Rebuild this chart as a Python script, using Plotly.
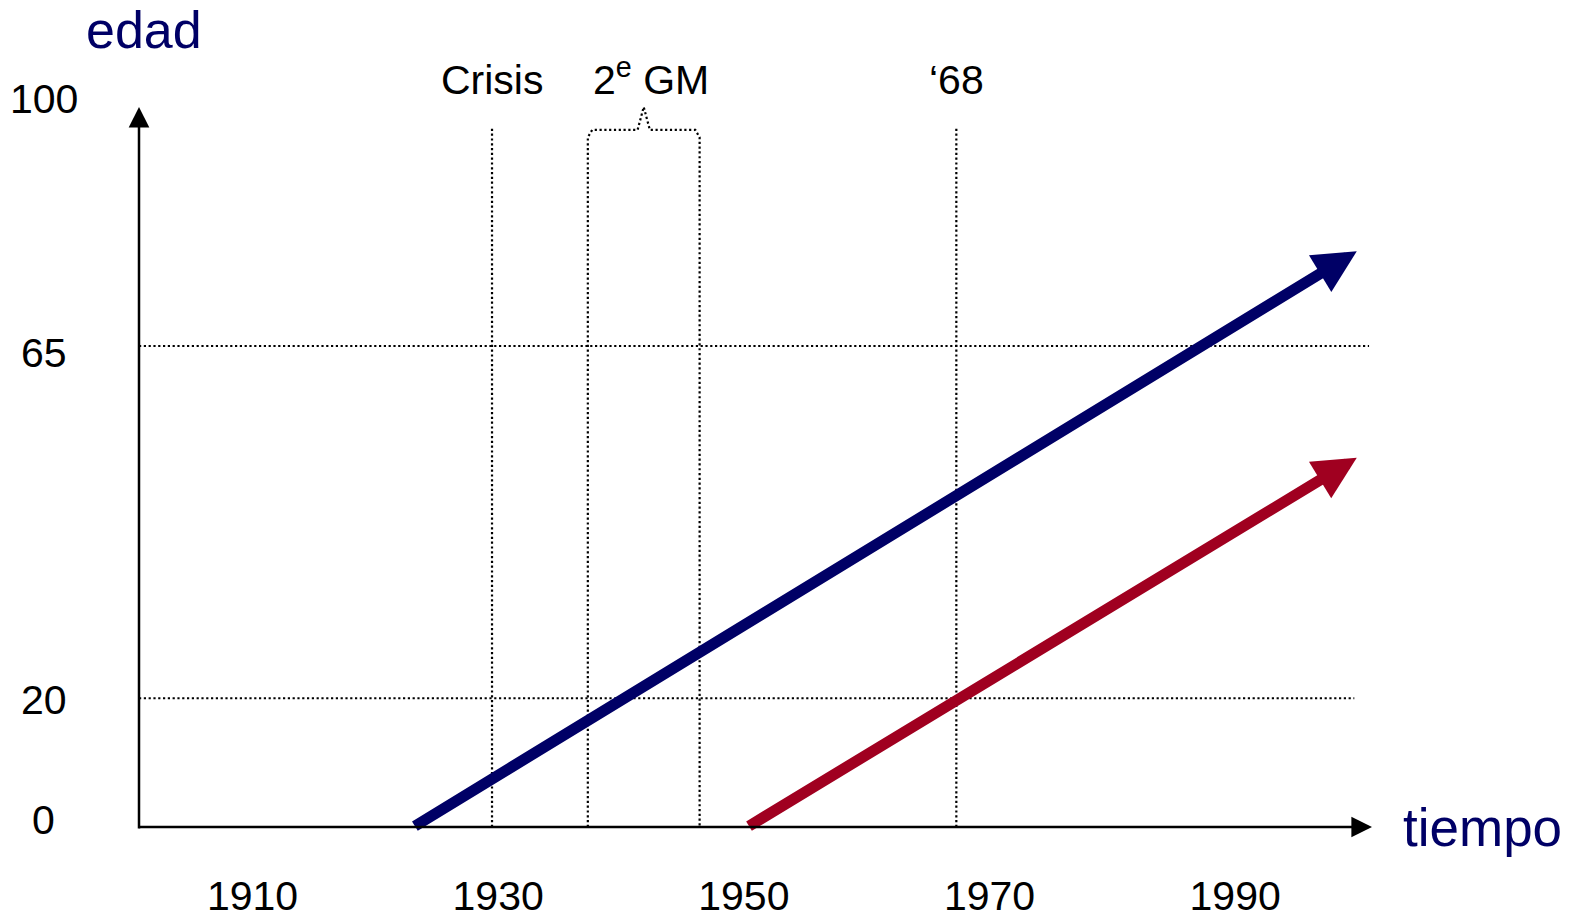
import plotly.graph_objects as go

# ---------------- data ----------------
year_ticks = [1910, 1930, 1950, 1970, 1990]
age_tick_text = ["0", "20", "65", "100"]
age_tick_pos = [1.0, 17.2, 64.0, 98.4]          # where the age labels sit on the schematic age scale
guide_ages = [17.4, 65.0]                        # dotted horizontal guides (20 and 65)
guide_end_years = [1999.7, 2000.9]
event_names = ["Crisis", "2<sup>e</sup> GM", "‘68"]
crisis_year = 1929.5
wwii_years = [1937.3, 1946.4]
may68_year = 1967.3
event_line_top = 94.7
brace_age = 94.2
brace_tip_age = 97.3
cohort_birth_years = [1923.1, 1950.3]
cohort_end_years = [1999.9, 1999.9]
cohort_end_ages = [77.8, 49.9]
cohort_colors = ["#000066", "#A00020"]
x_range = [1900.76, 2001.14]
y_range = [0, 97.3]

FONT = "Liberation Sans, Arial, sans-serif"
NAVY = "#000066"
DOT = "2.2px,2.6px"
DOT_W = 2.2


def px_(year):
    """data year -> paper x"""
    return (year - x_range[0]) / (x_range[1] - x_range[0])


def py_(age):
    """data age -> paper y"""
    return (age - y_range[0]) / (y_range[1] - y_range[0])


fig = go.Figure()

# dotted horizontal guides
for a, xe in zip(guide_ages, guide_end_years):
    fig.add_trace(go.Scatter(x=[x_range[0], xe], y=[a, a], mode="lines",
                             line=dict(color="black", width=DOT_W, dash=DOT),
                             hoverinfo="skip", showlegend=False))

# dotted vertical event lines (crisis, '68)
for yr in [crisis_year, may68_year]:
    fig.add_trace(go.Scatter(x=[yr, yr], y=[0, event_line_top], mode="lines",
                             line=dict(color="black", width=DOT_W, dash=DOT),
                             hoverinfo="skip", showlegend=False))

# WWII lines joined by a brace
w0, w1 = wwii_years
mid = (w0 + w1) / 2
bx = [w0, w0, w0 + 0.35, mid - 0.5, mid, mid + 0.5, w1 - 0.35, w1, w1]
by = [0, brace_age - 1.0, brace_age, brace_age, brace_tip_age, brace_age, brace_age, brace_age - 1.0, 0]
fig.add_trace(go.Scatter(x=bx, y=by, mode="lines",
                         line=dict(color="black", width=DOT_W, dash=DOT),
                         hoverinfo="skip", showlegend=False))

annotations = []

# cohort arrows
for b, xe, ye, c in zip(cohort_birth_years, cohort_end_years, cohort_end_ages, cohort_colors):
    annotations.append(dict(x=xe, y=ye, ax=b, ay=0, xref="x", yref="y", axref="x", ayref="y",
                            text="", showarrow=True, arrowhead=2, arrowsize=0.78,
                            arrowwidth=11, arrowcolor=c, standoff=0, startstandoff=0))

# axes as arrows
annotations.append(dict(x=x_range[0], y=y_range[1], ax=x_range[0], ay=-0.4, xref="x", yref="y",
                        axref="x", ayref="y", text="", showarrow=True, arrowhead=2,
                        arrowsize=1.65, arrowwidth=2.5, arrowcolor="black"))
annotations.append(dict(x=x_range[1], y=0, ax=x_range[0] - 0.1, ay=0, xref="x", yref="y",
                        axref="x", ayref="y", text="", showarrow=True, arrowhead=2,
                        arrowsize=1.65, arrowwidth=2.5, arrowcolor="black"))

# age labels
for t, p in zip(age_tick_text, age_tick_pos):
    annotations.append(dict(x=px_(1893.0), y=py_(p), xref="paper", yref="paper", text=t,
                            showarrow=False, xanchor="center", yanchor="middle",
                            font=dict(family=FONT, size=41, color="black")))

# event labels
for name, xp, ys in zip(event_names, [crisis_year, mid + 0.6, may68_year], [0, 3, 0]):
    annotations.append(dict(x=px_(xp), y=py_(101.0), xref="paper", yref="paper", text=name,
                            showarrow=False, xanchor="center", yanchor="middle", yshift=ys,
                            font=dict(family=FONT, size=41, color="black")))

# axis titles
annotations.append(dict(x=px_(1901.2), y=py_(107.7), xref="paper", yref="paper", text="edad",
                        showarrow=False, xanchor="center", yanchor="middle",
                        font=dict(family=FONT, size=52, color=NAVY)))
annotations.append(dict(x=px_(2010.1), y=py_(0.0), xref="paper", yref="paper", text="tiempo",
                        showarrow=False, xanchor="center", yanchor="middle",
                        font=dict(family=FONT, size=53, color=NAVY)))

fig.update_layout(
    width=1578, height=918,
    margin=dict(l=139, r=206, t=107, b=91, autoexpand=False),
    paper_bgcolor="white", plot_bgcolor="white",
    showlegend=False,
    annotations=annotations,
    xaxis=dict(range=x_range, tickvals=year_ticks, ticktext=[str(v) for v in year_ticks],
               showgrid=False, zeroline=False, showline=False, automargin=False,
               ticks="outside", ticklen=33, tickcolor="rgba(0,0,0,0)",
               tickfont=dict(family=FONT, size=41, color="black")),
    yaxis=dict(range=y_range, visible=False, automargin=False),
)

fig.write_html("out.html", config={"displayModeBar": False},
               post_script="document.body.style.margin='0';document.body.style.overflow='hidden';")
